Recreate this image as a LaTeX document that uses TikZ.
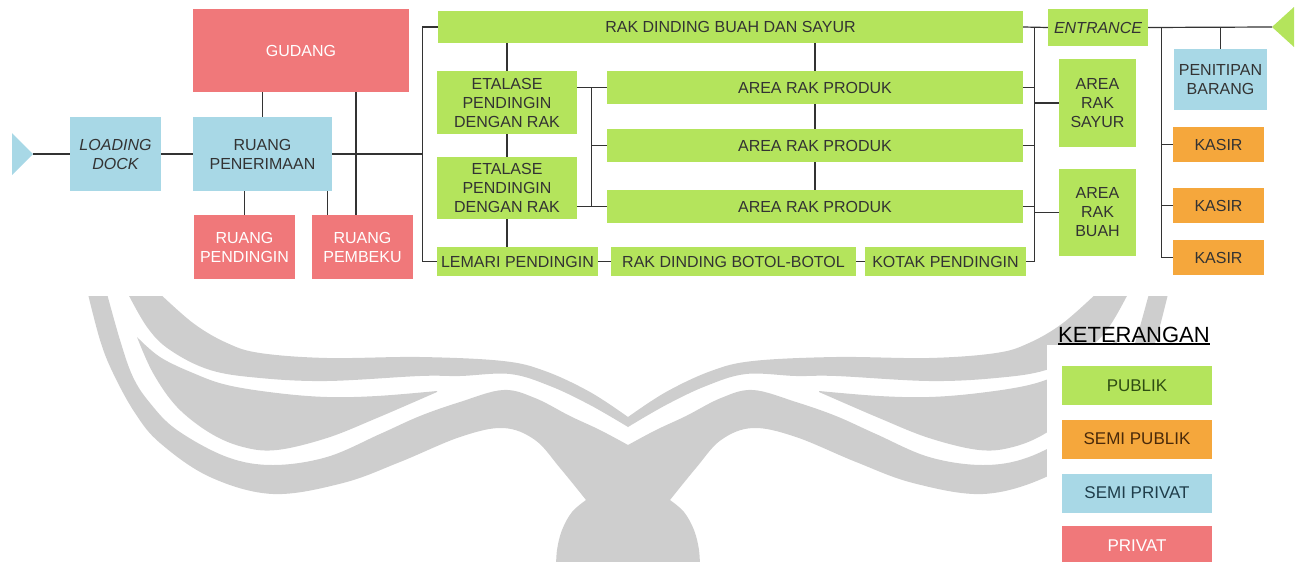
\documentclass[tikz,border=0pt]{standalone}
\usepackage{fontspec}
\setmainfont{Liberation Sans}
\usetikzlibrary{calc}

\definecolor{pub}{HTML}{B4E45C}
\definecolor{spub}{HTML}{F5A73C}
\definecolor{spriv}{HTML}{A8D8E6}
\definecolor{priv}{HTML}{F0787A}
\definecolor{txt}{HTML}{333333}
\definecolor{wirec}{HTML}{333333}
\definecolor{wm}{HTML}{CECECE}
\definecolor{pubtxt}{HTML}{2E4D12}
\definecolor{spubtxt}{HTML}{4A2A0A}
\definecolor{sprivtxt}{HTML}{1F3D4A}

% one half of the grey emblem in the background; the other half is its mirror image
\newcommand\emblemhalf{%
  \fill[wm] plot[smooth, tension=0.6] coordinates {(156,290) (193,323) (227,343) (260,353) (327,358) (420,357) (503,361) (545,371) (590,392) (628,417)}
    -- (628,427)
    -- plot[smooth, tension=0.6] coordinates {(628,427) (590,405) (550,386) (510,374) (460,376) (420,376) (327,381) (260,378) (210,370) (170,350) (147,327) (126,290)}
    -- cycle;
  \fill[wm] plot[smooth, tension=0.6] coordinates {(137,337) (160,357) (193,373) (227,385) (277,393) (327,397) (377,396) (437,391)}
    -- plot[smooth, tension=0.6] coordinates {(437,392) (377,418) (327,438) (277,450) (243,447) (210,433) (177,407) (153,373) (137,337)}
    -- cycle;
  \fill[wm] plot[smooth, tension=0.6] coordinates {(87,290) (100,340) (113,373) (135,413) (160,443) (210,477) (273,494) (343,483) (400,462) (460,437) (503,428) (535,440) (560,468) (586,500)}
    -- plot[smooth, tension=0.6] coordinates {(586,500) (572,512) (562,530) (557,550) (556,570)}
    -- (628,570) -- (628,445)
    -- plot[smooth, tension=0.6] coordinates {(628,445) (600,430) (570,416) (535,398) (503,390) (460,402) (420,416) (380,434) (327,457) (273,465) (227,457) (177,430) (150,403) (133,377) (120,340) (106,290)}
    -- cycle;
}

\begin{document}
\begin{tikzpicture}[x=1pt,y=-1pt,
  wire/.style={draw=wirec, line width=1.2pt},
  room/.style={rectangle, inner sep=0pt, align=center, text=txt, font=\fontsize{16}{19}\selectfont},
  sz/.style 2 args={minimum width=#1pt, minimum height=#2pt},
  pubbox/.style={room, fill=pub},
  semipub/.style={room, fill=spub},
  semipriv/.style={room, fill=spriv},
  privbox/.style={room, fill=priv, text=white},
  keybox/.style={rectangle, inner sep=0pt, minimum width=150pt, minimum height=39pt, font=\fontsize{17}{20}\selectfont}
]
\useasboundingbox (0,0) rectangle (1301,562);

% background emblem
\begin{scope}
  \clip (0,296) rectangle (1301,562);
  \emblemhalf
  \begin{scope}[xshift=1256pt, xscale=-1]
    \emblemhalf
  \end{scope}
\end{scope}

% service side
\node[semipriv, sz={91}{74}, font=\fontsize{16}{19}\selectfont\itshape] (ld) at (115.5,154) {LOADING\\DOCK};
\node[semipriv, sz={139}{74}] (pen) at (262.5,154) {RUANG\\PENERIMAAN};
\node[privbox, sz={216}{83}] (gud) at (301,50.5) {GUDANG};
\node[privbox, sz={101}{64}] (rpd) at (244.5,247) {RUANG\\PENDINGIN};
\node[privbox, sz={101}{64}] (rpb) at (362.5,247) {RUANG\\PEMBEKU};

% sales floor
\node[pubbox, sz={585}{32}] (rak) at (730.5,27) {RAK DINDING BUAH DAN SAYUR};
\node[pubbox, sz={140}{63}] (et1) at (507,102.5) {ETALASE\\PENDINGIN\\DENGAN RAK};
\node[pubbox, sz={140}{62}] (et2) at (507,188) {ETALASE\\PENDINGIN\\DENGAN RAK};
\node[pubbox, sz={161}{29}] (lem) at (517.5,261.5) {LEMARI PENDINGIN};
\node[pubbox, sz={245}{29}] (bot) at (733.5,261.5) {RAK DINDING BOTOL-BOTOL};
\node[pubbox, sz={161}{29}] (kot) at (945.5,261.5) {KOTAK PENDINGIN};
\node[pubbox, sz={416}{33}] (ar1) at (815,87.5) {AREA RAK PRODUK};
\node[pubbox, sz={416}{33}] (ar2) at (815,145.5) {AREA RAK PRODUK};
\node[pubbox, sz={416}{33}] (ar3) at (815,206.5) {AREA RAK PRODUK};
\node[pubbox, sz={100}{37}, font=\fontsize{16}{19}\selectfont\itshape] (ent) at (1098,27.5) {ENTRANCE};
\node[pubbox, sz={77}{88}] (sayur) at (1097.5,103) {AREA\\RAK\\SAYUR};
\node[pubbox, sz={77}{87}] (buah) at (1097.5,212.5) {AREA\\RAK\\BUAH};

% front counters
\node[semipriv, sz={93}{61}] (pnt) at (1220.5,79.5) {PENITIPAN\\BARANG};
\node[semipub, sz={91}{35}] (k1) at (1218.5,144.5) {KASIR};
\node[semipub, sz={91}{35}] (k2) at (1218.5,205.5) {KASIR};
\node[semipub, sz={91}{35}] (k3) at (1218.5,257.5) {KASIR};

% access markers
\coordinate (lt) at (33,154);
\coordinate (rt) at (1272,27);
\fill[spriv] (12,133) -- (lt) -- (12,175) -- cycle;
\fill[pub] (1294,7) -- (rt) -- (1294,47) -- cycle;

% bus coordinates
\coordinate (bl) at ($(rak.west)+(-15,0)$);
\coordinate (bm) at ($(ar1.west)+(-15,0)$);
\coordinate (br) at ($(ent.west)+(-13,0)$);
\coordinate (bk) at ($(k1.west)+(-11,0)$);

% connectors: service side
\draw[wire] (lt) -- (ld.west);
\draw[wire] (ld.east) -- (pen.west);
\draw[wire] (pen.north) -- (pen.north |- gud.south);
\draw[wire] ($(rpb.north)+(-6.5,0)$) -- ($(rpb.north |- gud.south)+(-6.5,0)$);
\draw[wire] (rpd.north) -- (rpd.north |- pen.south);
\draw[wire] ($(pen.south east)+(-5,0)$) -- ($(pen.south east |- rpb.north)+(-5,0)$);
\draw[wire] (pen.east) -- (pen.east -| bl);
\draw[wire] (rak.west) -- (bl) -- (bl |- lem.west) -- (lem.west);

% connectors: sales floor
\draw[wire] (et1.north) -- (et1.north |- rak.south);
\draw[wire] (et1.south) -- (et2.north);
\draw[wire] (et2.south) -- (et2.south |- lem.north);
\draw[wire] (ar1.west -| et1.east) -- (ar1.west);
\draw[wire] (ar3.west -| et2.east) -- (ar3.west);
\draw[wire] (bm |- ar1.west) -- (bm |- ar3.west);
\draw[wire] (bm |- ar2.west) -- (ar2.west);
\draw[wire] (ar1.north) -- (ar1.north |- rak.south);
\draw[wire] (ar1.south) -- (ar2.north);
\draw[wire] (ar2.south) -- (ar3.north);
\draw[wire] (lem.east) -- (bot.west);
\draw[wire] (bot.east) -- (kot.west);

% connectors: right-hand bus
\draw[wire] (rak.east) -- (ent.west);
\draw[wire] (br |- rak.east) -- (br |- kot.east) -- (kot.east);
\draw[wire] (ar1.east) -- (ar1.east -| br);
\draw[wire] (ar2.east) -- (ar2.east -| br);
\draw[wire] (ar3.east) -- (ar3.east -| br);
\draw[wire] (sayur.west) -- (sayur.west -| br);
\draw[wire] (buah.west) -- (buah.west -| br);

% connectors: entrance side
\draw[wire] (ent.east) -- (rt);
\draw[wire] (pnt.north) -- (pnt.north |- ent.east);
\draw[wire] (bk |- ent.east) -- (bk |- k3.west) -- (k3.west);
\draw[wire] (bk |- k1.west) -- (k1.west);
\draw[wire] (bk |- k2.west) -- (k2.west);

% legend
\fill[white] (1047,345) rectangle (1227,562);
\node[anchor=base west, inner sep=0pt, font=\fontsize{22}{26}\selectfont] (ket) at (1058,342) {KETERANGAN};
\draw[line width=1.3pt] ($(ket.base west)+(0,2)$) -- ($(ket.base east)+(0,2)$);
\node[keybox, fill=pub, text=pubtxt] (kpub) at (1137,385.5) {PUBLIK};
\node[keybox, fill=spub, text=spubtxt] (kspub) at (1137,439) {SEMI PUBLIK};
\node[keybox, fill=spriv, text=sprivtxt] (kspriv) at (1137,493) {SEMI PRIVAT};
\node[keybox, fill=priv, text=white] (kpriv) at (1137,545.5) {PRIVAT};
\end{tikzpicture}
\end{document}
